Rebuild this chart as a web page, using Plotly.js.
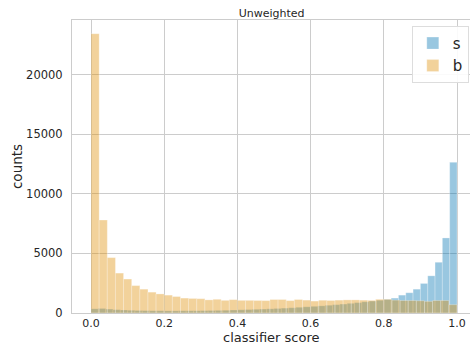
<!DOCTYPE html>
<html>
<head>
<meta charset="utf-8">
<script src="https://cdn.plot.ly/plotly-3.0.1.min.js"></script>
<style>html,body{margin:0;padding:0;background:#fff;}#chart{width:470px;height:347px;}</style>
</head>
<body>
<div id="chart"></div>
<script>
// Histogram counts
// "b" (background): 45 equal bins over [0, 1]
const bCounts = [23450, 7800, 4650, 3350, 2850, 2300, 2000, 1750, 1600, 1500,
                 1380, 1250, 1220, 1200, 1100, 1150, 1060, 1120, 1060, 1060,
                 1050, 1040, 1130, 1130, 1040, 1130, 1080, 1000, 1070, 1050,
                 1080, 1100, 1100, 1080, 1060, 1150, 1150, 1080, 1050, 1050,
                 1030, 980, 1050, 1050, 700];
// "s" (signal): 50 equal bins over [0, 1]
const sCounts = [350, 380, 330, 280, 250, 230, 210, 200, 190, 190,
                 180, 180, 190, 190, 190, 200, 210, 220, 230, 250,
                 270, 290, 310, 330, 350, 380, 410, 440, 480, 520,
                 560, 600, 650, 700, 750, 810, 870, 940, 1000, 1070,
                 1150, 1250, 1500, 1700, 2000, 2480, 3120, 4260, 6300, 12650];
const scoreMin = 0, scoreMax = 1;
const seriesNames = ['s', 'b'];
const xTicks = [0.0, 0.2, 0.4, 0.6, 0.8, 1.0];
const yTicks = [0, 5000, 10000, 15000, 20000];
const xTitle = 'classifier score';

function binCenters(counts) {
  const w = (scoreMax - scoreMin) / counts.length;
  return {w: w, x: counts.map((_, i) => scoreMin + (i + 0.5) * w)};
}
const sb = binCenters(sCounts), bb = binCenters(bCounts);

const traces = [
  {type: 'bar', name: seriesNames[0], x: sb.x, y: sCounts, width: sb.w,
   marker: {color: 'rgba(1,115,178,0.4)', line: {color: 'rgba(255,255,255,0.45)', width: 0.6}}},
  {type: 'bar', name: seriesNames[1], x: bb.x, y: bCounts, width: bb.w,
   marker: {color: 'rgba(222,143,5,0.4)', line: {color: 'rgba(255,255,255,0.45)', width: 0.6}}}
];

const layout = {
  width: 470, height: 347,
  margin: {l: 72, r: 0, t: 20, b: 34, pad: 0},
  paper_bgcolor: '#ffffff', plot_bgcolor: '#ffffff',
  barmode: 'overlay',
  font: {family: 'DejaVu Sans', color: '#262626', size: 11},
  title: {text: 'Unweighted', font: {size: 11, color: '#262626'}, x: 0.578, xanchor: 'center', y: 0.962, yanchor: 'middle'},
  xaxis: {
    range: [-0.052, 1.0355], tickvals: xTicks, tickformat: '.1f',
    showgrid: true, gridcolor: '#cccccc', gridwidth: 1,
    showline: true, linecolor: '#cccccc', linewidth: 1, mirror: true,
    zeroline: false, ticks: '', ticklabelstandoff: 0,
    tickfont: {size: 11, color: '#262626'}
  },
  yaxis: {
    range: [0, 24600], tickvals: yTicks, tickformat: 'd',
    showgrid: true, gridcolor: '#cccccc', gridwidth: 1,
    showline: true, linecolor: '#cccccc', linewidth: 1, mirror: true,
    zeroline: false, ticks: '', ticklabelstandoff: 6,
    tickfont: {size: 11.5, color: '#262626'},
    title: {text: 'counts', font: {size: 13.5, color: '#262626'}, standoff: 0}
  },
  annotations: [{
    text: xTitle, xref: 'paper', yref: 'paper', x: 0.5, y: 0,
    xanchor: 'center', yanchor: 'top', yshift: -16, showarrow: false,
    borderpad: 0, font: {size: 13, color: '#262626'}
  }],
  legend: {
    x: 0.997, y: 0.98, xanchor: 'right', yanchor: 'top',
    bgcolor: 'rgba(255,255,255,0.9)', bordercolor: '#dddddd', borderwidth: 1,
    font: {size: 15, color: '#262626'}, itemwidth: 30, tracegroupgap: 0
  },
  showlegend: true
};

Plotly.newPlot('chart', traces, layout, {staticPlot: true, displayModeBar: false});
</script>
</body>
</html>
